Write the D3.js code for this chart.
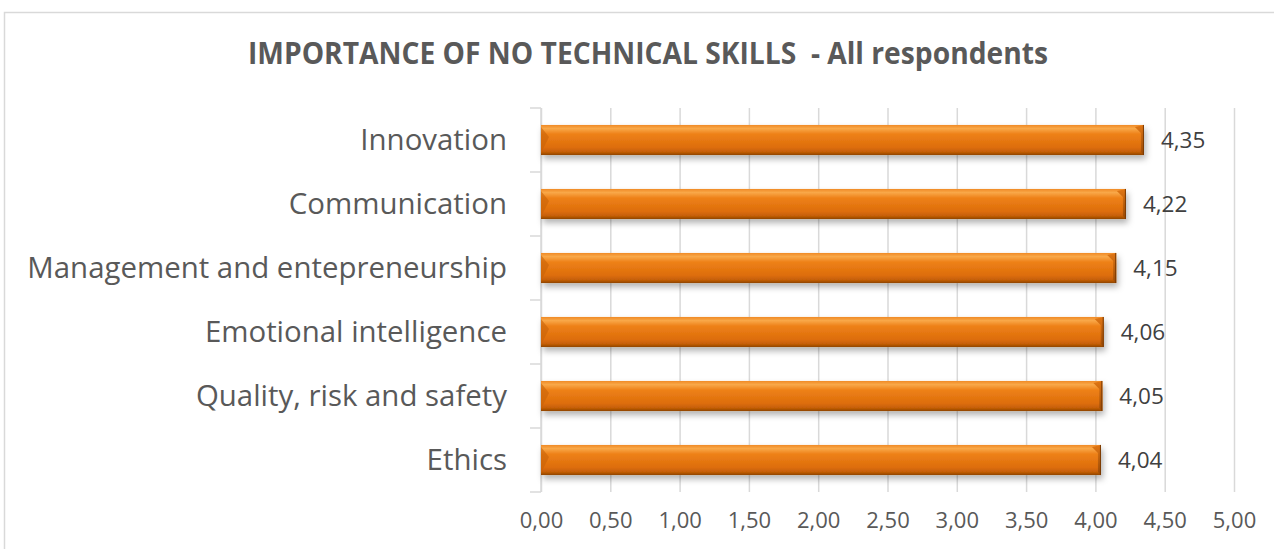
<!DOCTYPE html>
<html>
<head>
<meta charset="utf-8">
<script src="https://cdn.jsdelivr.net/npm/d3@7"></script>
<style>
  body { margin: 0; background: #fff; overflow: hidden; }
  svg { display: block; }
  svg text { font-family: "Open Sans", sans-serif; }
</style>
</head>
<body>
<div id="myChart"></div>
<script>
// Data
const skills = ["Innovation", "Communication", "Management and entepreneurship",
                "Emotional intelligence", "Quality, risk and safety", "Ethics"];
const scores = [4.35, 4.22, 4.15, 4.06, 4.05, 4.04];
const xTicks = [0, 0.5, 1, 1.5, 2, 2.5, 3, 3.5, 4, 4.5, 5];
const title = "IMPORTANCE OF NO TECHNICAL SKILLS  - All respondents";

const w = 1274;
const h = 549;
const margin = {top: 108, left: 541, bottom: 57, right: 40};
const innerWidth = 1234 - margin.left;
const innerHeight = 492 - margin.top;

const fmt = v => d3.format(".2f")(v).replace(".", ",");

const svg = d3.select("#myChart")
  .append("svg")
    .attr("width", w)
    .attr("height", h);

// gradients and shadow
const defs = svg.append("defs");
const grad = defs.append("linearGradient")
  .attr("id", "barGrad").attr("x1", 0).attr("y1", 0).attr("x2", 0).attr("y2", 1);
grad.append("stop").attr("offset", "0%").attr("stop-color", "#f08a26");
grad.append("stop").attr("offset", "12%").attr("stop-color", "#f9a848");
grad.append("stop").attr("offset", "30%").attr("stop-color", "#ee8118");
grad.append("stop").attr("offset", "75%").attr("stop-color", "#dd6d0b");
grad.append("stop").attr("offset", "90%").attr("stop-color", "#c45e06");
grad.append("stop").attr("offset", "100%").attr("stop-color", "#8f4405");

const endGrad = defs.append("linearGradient")
  .attr("id", "endGrad").attr("x1", 0).attr("y1", 0).attr("x2", 0).attr("y2", 1);
endGrad.append("stop").attr("offset", "0%").attr("stop-color", "#e07614");
endGrad.append("stop").attr("offset", "100%").attr("stop-color", "#9a4a06");

const shadow = defs.append("filter").attr("id", "shadow")
  .attr("x", "-5%").attr("y", "-30%").attr("width", "110%").attr("height", "180%");
shadow.append("feDropShadow")
  .attr("dx", 2).attr("dy", 4).attr("stdDeviation", 3)
  .attr("flood-color", "#000").attr("flood-opacity", 0.3);

// chart border (right and bottom edges run past the page)
svg.append("path")
  .attr("d", `M4.5,${h} L4.5,12.5 L${w},12.5`)
  .attr("fill", "none")
  .attr("stroke", "#d9d9d9")
  .attr("stroke-width", 1.5);

// title (condensed to the width it takes in the original)
svg.append("text")
  .attr("x", 648)
  .attr("y", 64)
  .attr("text-anchor", "middle")
  .attr("font-size", 29.5)
  .attr("font-weight", "bold")
  .attr("fill", "#595959")
  .attr("textLength", 800)
  .attr("lengthAdjust", "spacingAndGlyphs")
  .style("white-space", "pre")
  .text(title);

const mainG = svg.append("g")
  .attr("transform", `translate(${margin.left}, ${margin.top})`);

const xScale = d3.scaleLinear()
  .domain([0, 5])
  .range([0, innerWidth]);

const yScale = d3.scaleBand()
  .domain(skills)
  .range([0, innerHeight])
  .paddingInner(0.53)
  .paddingOuter(0.265);

// gridlines + x labels
const xAxis = d3.axisBottom(xScale)
  .tickValues(xTicks)
  .tickSize(-innerHeight)
  .tickPadding(20)
  .tickFormat(fmt);

const xg = mainG.append("g")
  .attr("transform", `translate(0,${innerHeight})`)
  .call(xAxis);
xg.select(".domain").remove();
xg.selectAll(".tick line").attr("stroke", "#d9d9d9").attr("stroke-width", 1.5);
xg.selectAll(".tick text")
  .attr("font-size", 22)
  .attr("fill", "#595959")
  .style("font-family", "'Open Sans', sans-serif");

// y axis: category ticks at band boundaries
const bounds = skills.map(s => yScale(s) - yScale.step() * yScale.paddingInner() / 2)
  .concat([innerHeight]);
mainG.selectAll(".ytick")
  .data(bounds)
  .enter()
  .append("line")
    .attr("x1", -11).attr("x2", 0)
    .attr("y1", d => d).attr("y2", d => d)
    .attr("stroke", "#d9d9d9").attr("stroke-width", 1.5);
mainG.append("line")
  .attr("x1", 0).attr("x2", 0)
  .attr("y1", 0).attr("y2", innerHeight)
  .attr("stroke", "#d9d9d9").attr("stroke-width", 1.5);

// category labels
const cats = mainG.selectAll(".cat")
  .data(skills)
  .enter()
  .append("text")
    .attr("x", -34)
    .attr("y", d => yScale(d) + yScale.bandwidth() / 2)
    .attr("dy", "0.35em")
    .attr("text-anchor", "end")
    .attr("font-size", 28)
    .attr("fill", "#595959")
    .text(d => d);

// scale label font so the longest one spans like in the original
const longest = d3.max(cats.nodes(), n => n.getComputedTextLength());
cats.attr("font-size", 28 * 480 / longest);

// bars
const bars = mainG.selectAll(".bar")
  .data(skills.map((s, i) => ({skill: s, value: scores[i]})))
  .enter()
  .append("g")
    .attr("class", "bar")
    .attr("transform", d => `translate(0,${yScale(d.skill)})`);

const bh = yScale.bandwidth();

bars.append("rect")
  .attr("x", 0)
  .attr("y", 0)
  .attr("width", d => xScale(d.value))
  .attr("height", bh)
  .attr("fill", "url(#barGrad)")
  .attr("filter", "url(#shadow)");

// bevel at left end
bars.append("path")
  .attr("d", `M0,2 L8,${bh * 0.4} L0,${bh - 2} Z`)
  .attr("fill", "#c86308")
  .attr("opacity", 0.6);

// bevel at right end
bars.append("path")
  .attr("d", d => {
    const xe = xScale(d.value);
    return `M${xe},0 L${xe},${bh} L${xe - 3},${bh - 3} L${xe - 3},8 L${xe - 9},2 Z`;
  })
  .attr("fill", "url(#endGrad)");
bars.append("line")
  .attr("x1", d => xScale(d.value) - 0.5)
  .attr("x2", d => xScale(d.value) - 0.5)
  .attr("y1", 0).attr("y2", bh)
  .attr("stroke", "#7a3a03").attr("stroke-width", 1);

// value labels
bars.append("text")
  .attr("x", d => xScale(d.value) + 17)
  .attr("y", bh / 2)
  .attr("dy", "0.35em")
  .attr("font-size", 22.5)
  .attr("fill", "#404040")
  .text(d => fmt(d.value));
</script>
</body>
</html>
